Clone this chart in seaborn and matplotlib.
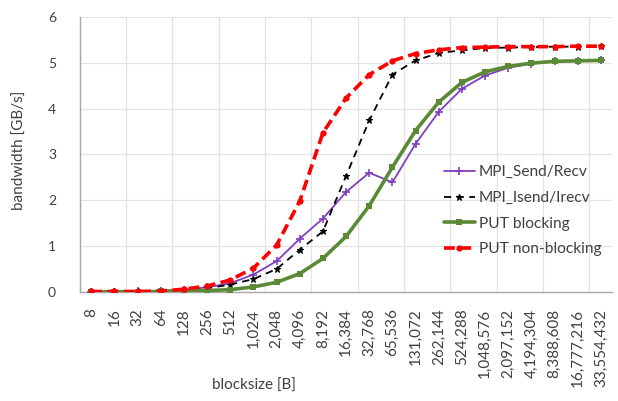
import numpy as np
import pandas as pd
import seaborn as sns
import matplotlib.pyplot as plt

# blocksizes (bytes)
blocksizes = [2 ** k for k in range(3, 26)]
labels = [f"{b:,}" for b in blocksizes]

# bandwidth [GB/s]
send_recv = [0.0, 0.0, 0.01, 0.02, 0.05, 0.10, 0.19, 0.38, 0.67, 1.16, 1.60, 2.18,
             2.60, 2.39, 3.23, 3.93, 4.43, 4.72, 4.89, 4.98, 5.03, 5.04, 5.05]
isend_irecv = [0.01, 0.01, 0.01, 0.02, 0.04, 0.08, 0.16, 0.28, 0.50, 0.92, 1.32, 2.53,
               3.74, 4.74, 5.05, 5.21, 5.27, 5.32, 5.33, 5.34, 5.35, 5.35, 5.36]
put_blocking = [0.0, 0.0, 0.0, 0.01, 0.02, 0.03, 0.05, 0.11, 0.21, 0.40, 0.73, 1.21,
                1.88, 2.72, 3.52, 4.14, 4.57, 4.80, 4.92, 4.99, 5.03, 5.04, 5.05]
put_nonblocking = [0.01, 0.01, 0.01, 0.02, 0.06, 0.13, 0.26, 0.52, 1.02, 1.98, 3.47, 4.23,
                   4.74, 5.04, 5.20, 5.28, 5.33, 5.34, 5.35, 5.35, 5.35, 5.36, 5.36]

series = {
    "MPI_Send/Recv": send_recv,
    "MPI_Isend/Irecv": isend_irecv,
    "PUT blocking": put_blocking,
    "PUT non-blocking": put_nonblocking,
}
styles = {
    "MPI_Send/Recv": dict(color="#7F3FBF", lw=1.3, ls="-", marker="+", ms=6, mew=1.2),
    "MPI_Isend/Irecv": dict(color="black", lw=1.3, ls=(0, (4, 3)), marker="*", ms=5, mew=0.8),
    "PUT blocking": dict(color="#5A8A36", lw=2.6, ls="-", marker="s", ms=4, mew=0),
    "PUT non-blocking": dict(color="#FF0000", lw=2.6, ls=(0, (3, 1.5)), marker="o", ms=4.5, mew=0),
}

sns.set_style("white")
plt.rcParams["font.family"] = ["Lato", "DejaVu Sans"]

fig = plt.figure(figsize=(6.18, 4.01), dpi=100)
ax = fig.add_axes([0.129, 0.272, 0.862, 0.686])

for name, vals in series.items():
    df = pd.DataFrame({"blocksize": labels, "bw": vals})
    st = styles[name]
    sns.lineplot(data=df, x="blocksize", y="bw", ax=ax, label=name, sort=False,
                 color=st["color"], linewidth=st["lw"], linestyle=st["ls"],
                 marker=st["marker"], markersize=st["ms"], markeredgewidth=st["mew"],
                 markeredgecolor=st["color"], zorder=3)

ax.set_xlim(-0.5, len(labels) - 0.5)
ax.set_ylim(0, 6)
ax.set_yticks(range(0, 7))
ax.set_xticks(range(len(labels)))
ax.set_xticklabels(labels, rotation=90, fontsize=11, color="#404040")
ax.tick_params(axis="y", labelsize=10, labelcolor="#404040", length=0, pad=17)
ax.tick_params(axis="x", length=0, pad=12)

# grid: horizontal at each unit, vertical every second category boundary
for y in range(1, 7):
    ax.axhline(y, color="#E3E3E3", lw=0.9, zorder=0)
for x in np.arange(1.5, len(labels) - 0.5, 2):
    ax.axvline(x, color="#E3E3E3", lw=0.9, zorder=0)

for s in ["top", "right"]:
    ax.spines[s].set_visible(False)
for s in ["left", "bottom"]:
    ax.spines[s].set_color("#A6A6A6")
    ax.spines[s].set_linewidth(1.0)

ax.set_xlabel("")
ax.set_ylabel("")
fig.text(254 / 618, 1 - 386 / 401, "blocksize [B]", fontsize=11, color="#404040",
         ha="center", va="center")
fig.text(20 / 618, 1 - 150 / 401, "bandwidth [GB/s]", fontsize=11, color="#404040",
         ha="center", va="center", rotation=90)

leg = ax.legend(loc="lower right", bbox_to_anchor=(1.0, 0.09), frameon=False,
                fontsize=11.2, handlelength=2.0, handletextpad=0.25, labelspacing=0.75,
                borderpad=0.2)
for t in leg.get_texts():
    t.set_color("#404040")

fig.savefig("out.png", dpi=100)
